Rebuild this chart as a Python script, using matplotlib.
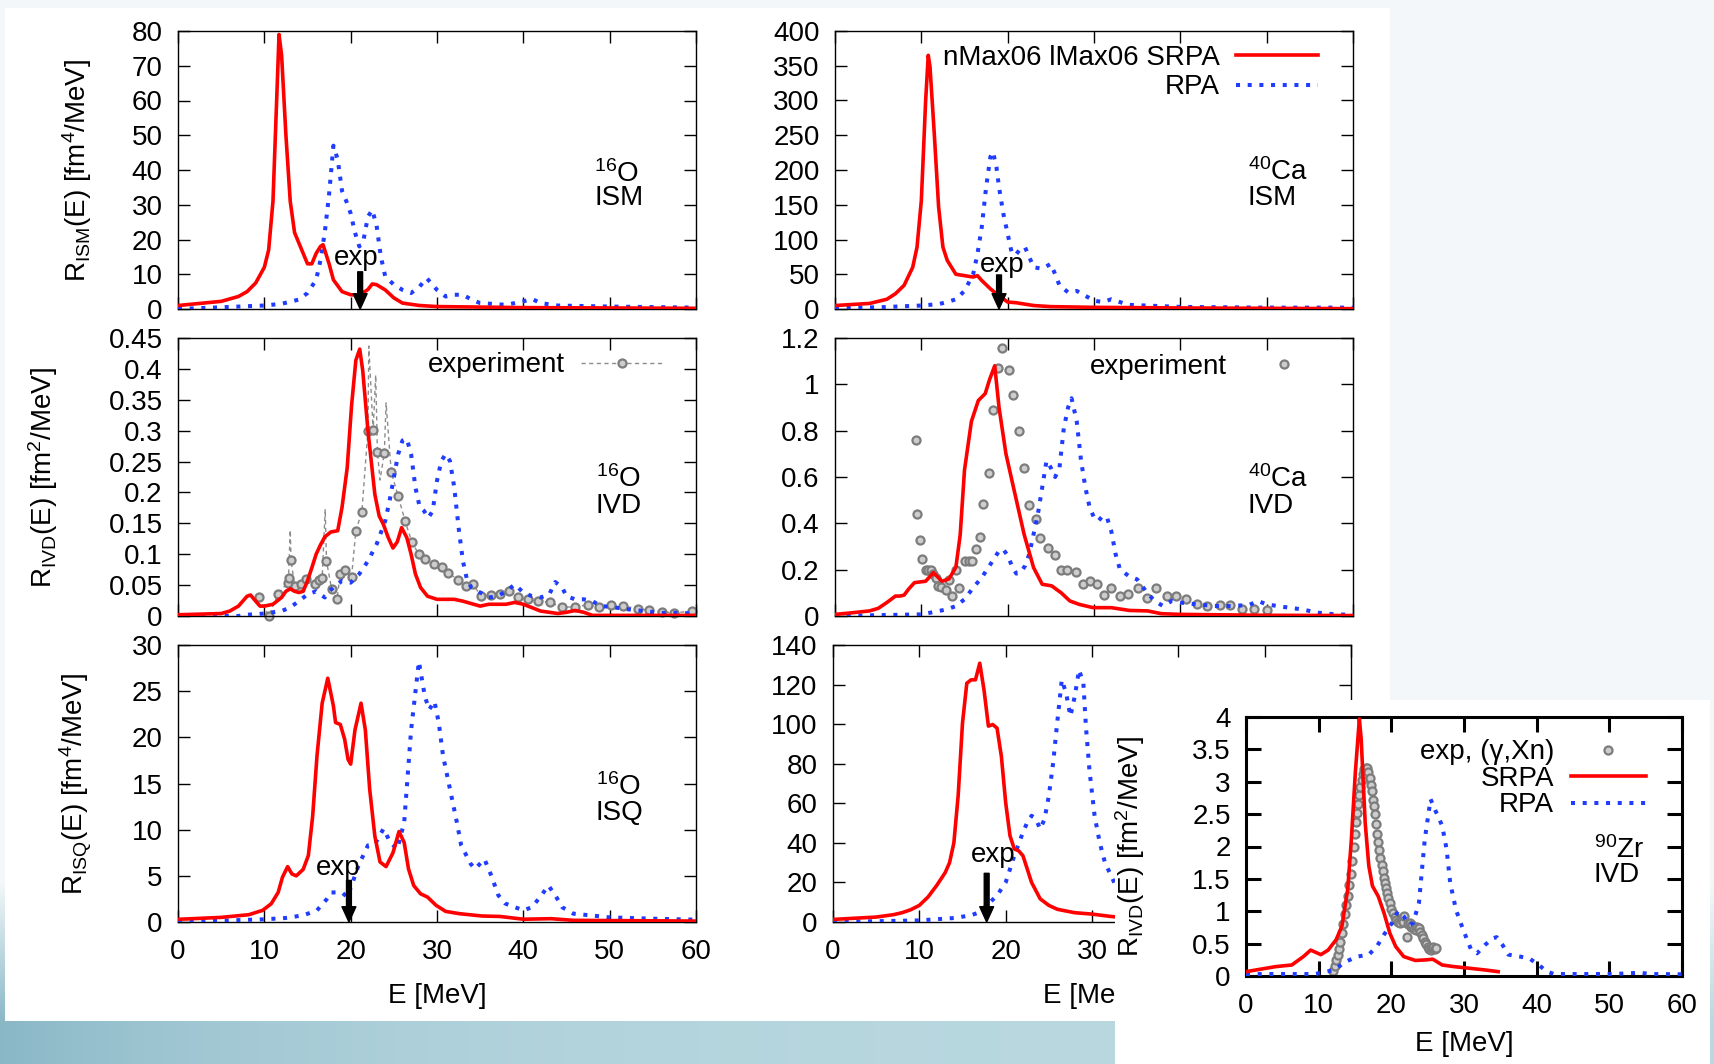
import numpy as np
import matplotlib
matplotlib.use('Agg')
import matplotlib.pyplot as plt
from matplotlib.lines import Line2D
from matplotlib.patches import Rectangle
from matplotlib.ticker import MultipleLocator, FormatStrFormatter

plt.rcParams['font.family'] = ['Liberation Sans', 'DejaVu Sans']
plt.rcParams['font.size'] = 20
plt.rcParams['mathtext.fontset'] = 'custom'
plt.rcParams['mathtext.rm'] = 'Liberation Sans'
plt.rcParams['mathtext.it'] = 'Liberation Sans:italic'
plt.rcParams['mathtext.bf'] = 'Liberation Sans:bold'

# ---- data (E in MeV) ----
# 16O isoscalar monopole
o16_ism_srpa_e = [0, 5, 7, 8, 9, 10, 10.5, 11, 11.5, 11.7, 12, 12.5, 13, 13.5, 14, 14.5, 15, 15.5, 16, 16.5,
                  16.8, 17.5, 18, 19, 20, 21, 22, 22.5, 23, 24, 25, 26, 28, 30, 40, 60]
o16_ism_srpa_r = [1.0, 2.2, 3.6, 5.0, 7.5, 12, 17, 31, 65, 79, 73, 50, 31, 22, 19, 16, 13, 13, 16, 18,
                  18.5, 13, 8.4, 5, 4.1, 4.0, 5.6, 7.2, 7, 5.5, 3.2, 1.7, 1.0, 0.7, 0.4, 0.2]
o16_ism_rpa_e = [0, 10, 12, 14, 15, 16, 16.5, 17, 17.5, 18, 18.5, 19, 19.5, 20, 20.5, 21, 21.5, 22, 22.5, 23,
                 23.5, 24, 25, 26, 27, 28, 28.8, 30, 31, 32, 33, 34, 35, 38, 40, 41, 42, 44, 50, 60]
o16_ism_rpa_r = [0, 1, 1.5, 2.7, 4.6, 8.4, 14, 22, 33, 47, 43, 34, 31, 27.5, 22, 18, 20, 26.6, 28.5, 24,
                 15, 9.4, 7, 5.5, 4.6, 6.5, 8.9, 5.5, 3.6, 4.1, 4.1, 2.7, 1.7, 1.2, 2.2, 2.9, 1.7, 1.0, 0.7, 0.4]

# 40Ca isoscalar monopole
ca40_ism_srpa_e = [0, 4, 6, 7, 8, 9, 9.5, 10, 10.5, 10.8, 11, 11.5, 12, 12.5, 13, 14, 15, 16, 16.5, 17,
                   18, 19, 20, 21, 22, 23, 25, 30, 40, 60]
ca40_ism_srpa_r = [5, 8, 14, 22, 34, 60, 89, 156, 300, 365, 349, 252, 147, 89, 70, 50, 48, 46, 48, 41,
                   29, 19, 10, 9, 7, 5, 3.4, 2.4, 1.5, 0.5]
ca40_ism_rpa_e = [0, 5, 10, 12, 13, 14, 15, 16, 16.5, 17, 17.5, 18, 18.3, 18.7, 19, 19.5, 20, 20.5, 21, 21.5,
                  22, 22.5, 23, 24, 25, 25.5, 26, 27, 28, 29, 30, 31, 32, 33, 34, 36, 40, 50, 60]
ca40_ism_rpa_r = [2, 2.4, 5, 7, 10, 14, 26, 50, 79, 118, 175, 219, 226, 204, 175, 137, 108, 79, 79, 87,
                  89, 75, 60, 58, 65, 50, 34, 24, 26, 19, 12, 10, 14, 10, 6, 5, 3, 2, 2]

# 16O isovector dipole
o16_ivd_srpa_e = [0, 5, 6, 7, 7.5, 8, 8.4, 9, 9.5, 10, 11, 12, 12.5, 13, 13.5, 14, 14.5, 15, 15.5, 16,
                  16.5, 17, 17.7, 18.5, 19.0, 19.6, 20.1, 20.6, 21.05, 21.4, 22.0, 22.8, 23.3, 23.8, 24.35,
                  24.9, 25.4, 25.9, 26.5, 27.0, 27.5, 28.1, 28.9, 30, 32, 33, 35, 36, 38, 39, 40, 42, 44,
                  45, 46, 47, 48, 60]
o16_ivd_srpa_r = [0.002, 0.004, 0.008, 0.016, 0.024, 0.032, 0.034, 0.024, 0.016, 0.016, 0.019, 0.030, 0.040,
                  0.044, 0.040, 0.038, 0.040, 0.057, 0.078, 0.100, 0.115, 0.128, 0.136, 0.138, 0.176, 0.240,
                  0.340, 0.414, 0.432, 0.397, 0.300, 0.197, 0.162, 0.148, 0.127, 0.110, 0.120, 0.143, 0.127,
                  0.100, 0.068, 0.046, 0.032, 0.027, 0.027, 0.024, 0.016, 0.019, 0.019, 0.022, 0.019, 0.008,
                  0.004, 0.006, 0.009, 0.006, 0.001, 0.001]
o16_ivd_rpa_e = [0, 7, 8, 10, 12, 13, 14, 15, 16, 16.5, 17, 17.5, 18, 19, 20, 21, 22, 23, 24, 24.5,
                 25, 25.5, 26, 26.5, 27, 27.5, 28, 28.5, 29, 29.5, 30, 30.5, 31, 31.5, 32, 32.5, 33, 33.5,
                 34, 35, 36, 37, 38, 39, 40, 41, 42, 43, 43.7, 44.5, 45, 46, 47, 48, 49, 50, 52, 54, 56, 58, 60]
o16_ivd_rpa_r = [0, 0, 0.002, 0.004, 0.008, 0.014, 0.024, 0.035, 0.040, 0.035, 0.030, 0.040, 0.046, 0.057,
                 0.054, 0.068, 0.089, 0.116, 0.154, 0.186, 0.224, 0.262, 0.284, 0.287, 0.262, 0.208, 0.176,
                 0.170, 0.159, 0.170, 0.219, 0.251, 0.262, 0.251, 0.208, 0.143, 0.089, 0.057, 0.046, 0.038,
                 0.030, 0.032, 0.040, 0.051, 0.038, 0.032, 0.030, 0.035, 0.055, 0.046, 0.032, 0.027, 0.027,
                 0.024, 0.016, 0.015, 0.011, 0.008, 0.005, 0.005, 0.004]
o16_ivd_exp_e = [9.4, 10.5, 11.6, 12.7, 12.8, 13.0, 13.1, 13.5, 14.3, 14.8, 15.9, 16.3, 16.7, 17.05, 17.2,
                 17.8, 18.4, 18.8, 19.4, 20.1, 20.6, 21.3, 22.0, 22.1, 22.6, 22.9, 23.1, 23.4, 23.9, 24.1,
                 24.7, 25.5, 26.3, 27.1, 27.9, 28.6, 29.7, 30.6, 31.3, 32.4, 33.4, 34.2, 35.1, 36.2, 37.3,
                 38.3, 39.4, 40.5, 41.7, 43.1, 44.5, 46.0, 47.5, 48.8, 50.2, 51.6, 53.3, 54.6, 56.1, 57.5, 59.5]
o16_ivd_exp_r = [0.030, 0.0, 0.036, 0.054, 0.062, 0.139, 0.090, 0.049, 0.051, 0.060, 0.051, 0.058, 0.062,
                 0.173, 0.089, 0.043, 0.027, 0.068, 0.074, 0.063, 0.138, 0.169, 0.300, 0.437, 0.301, 0.390,
                 0.265, 0.220, 0.264, 0.345, 0.233, 0.194, 0.154, 0.119, 0.100, 0.092, 0.084, 0.079, 0.070,
                 0.059, 0.049, 0.051, 0.032, 0.034, 0.035, 0.040, 0.030, 0.027, 0.024, 0.022, 0.014, 0.015,
                 0.018, 0.015, 0.018, 0.016, 0.012, 0.009, 0.007, 0.005, 0.008]
# 1 = sampled point drawn with a circle, 0 = only on the dashed trace
o16_ivd_exp_dot = [1, 1, 1, 1, 1, 0, 1, 1, 1, 1, 1, 1, 1, 0, 1, 1, 1, 1, 1, 1, 1, 1, 1, 0, 1, 0, 1, 0, 1, 0,
                   1, 1, 1, 1, 1, 1, 1, 1, 1, 1, 1, 1, 1, 1, 1, 1, 1, 1, 1, 1, 1, 1, 1, 1, 1, 1, 1, 1, 1, 1, 1]

# 40Ca isovector dipole
ca40_ivd_srpa_e = [0, 2, 4, 5, 6, 7, 7.5, 8, 8.5, 9.2, 10.5, 11.4, 12.4, 13.2, 14.0, 14.5, 15.0, 15.8, 16.6,
                   17.4, 17.9, 18.5, 19.0, 19.8, 20.85, 21.9, 23.0, 24.0, 25.1, 26.2, 27.2, 28.3, 29.9, 32,
                   34.1, 36.2, 37.8, 40, 50, 60]
ca40_ivd_srpa_r = [0.007, 0.014, 0.022, 0.033, 0.058, 0.086, 0.086, 0.09, 0.115, 0.144, 0.15, 0.187, 0.15,
                   0.16, 0.21, 0.35, 0.63, 0.84, 0.93, 0.96, 1.02, 1.08, 0.90, 0.70, 0.526, 0.353, 0.209,
                   0.137, 0.13, 0.10, 0.065, 0.05, 0.036, 0.036, 0.024, 0.022, 0.01, 0.007, 0.003, 0.002]
ca40_ivd_rpa_e = [0, 10, 11, 13, 14, 15, 16, 17, 18, 19, 19.5, 20, 20.5, 21, 21.5, 22, 22.5, 23, 23.5, 24,
                  24.5, 25, 25.5, 26, 26.5, 27, 27.4, 28, 28.5, 29, 29.5, 30, 30.5, 31, 31.5, 32, 32.5, 33,
                  34, 35, 36, 37, 38, 39, 40, 42, 44, 46, 48, 49, 50, 52, 54, 56, 58, 60]
ca40_ivd_rpa_r = [0, 0.007, 0.014, 0.029, 0.043, 0.072, 0.122, 0.166, 0.223, 0.281, 0.288, 0.26, 0.216,
                  0.183, 0.187, 0.216, 0.267, 0.353, 0.44, 0.555, 0.67, 0.64, 0.6, 0.64, 0.81, 0.9, 0.94,
                  0.84, 0.67, 0.555, 0.468, 0.425, 0.41, 0.432, 0.425, 0.367, 0.267, 0.202, 0.173, 0.158,
                  0.108, 0.065, 0.043, 0.065, 0.058, 0.05, 0.043, 0.043, 0.048, 0.065, 0.05, 0.039, 0.029,
                  0.014, 0.007, 0.005]
ca40_ivd_exp_e = [9.34, 9.55, 9.81, 10.1, 10.5, 10.8, 11.1, 11.4, 11.7, 11.9, 12.3, 12.8, 13.2, 13.6, 14.0,
                  14.4, 15.1, 15.5, 15.9, 16.3, 16.8, 17.2, 17.8, 18.3, 18.9, 19.4, 20.1, 20.6, 21.3, 21.9,
                  22.5, 23.3, 23.8, 24.7, 25.5, 26.2, 26.9, 27.9, 28.7, 29.5, 30.4, 31.2, 32.0, 33.0, 33.9,
                  35.1, 36.1, 37.2, 38.4, 39.5, 40.7, 41.9, 43.1, 44.6, 45.8, 47.2, 48.5, 50.0]
ca40_ivd_exp_r = [0.759, 0.442, 0.327, 0.248, 0.197, 0.197, 0.197, 0.18, 0.163, 0.13, 0.125, 0.111, 0.154,
                  0.086, 0.2, 0.122, 0.238, 0.238, 0.238, 0.288, 0.339, 0.483, 0.617, 0.889, 1.069, 1.157,
                  1.064, 0.955, 0.8, 0.641, 0.478, 0.419, 0.336, 0.295, 0.264, 0.197, 0.2, 0.19, 0.14,
                  0.151, 0.137, 0.091, 0.122, 0.086, 0.094, 0.122, 0.079, 0.122, 0.086, 0.086, 0.075, 0.05,
                  0.043, 0.048, 0.048, 0.029, 0.029, 0.024]

# 16O isoscalar quadrupole
o16_isq_srpa_e = [0, 5, 8.2, 9.8, 10.8, 11.6, 12.1, 12.7, 13.2, 13.7, 14.5, 15.1, 15.6, 16.1, 16.7, 17.35,
                  18.0, 18.25, 18.8, 19.3, 19.7, 20.0, 20.5, 21.2, 21.7, 22.2, 22.8, 23.4, 24.1, 24.9, 25.6,
                  26.2, 26.7, 27.3, 28.1, 28.9, 29.9, 31.0, 32.6, 35.2, 37.3, 40, 43.2, 45.8, 60]
o16_isq_srpa_r = [0.29, 0.5, 0.79, 1.26, 1.98, 3.2, 4.85, 6.0, 5.2, 5.0, 5.7, 7.2, 11.5, 18.0, 23.7, 26.4,
                  23.4, 21.6, 21.4, 19.8, 17.6, 17.1, 20.8, 23.7, 20.8, 14.4, 9.3, 6.5, 6.0, 7.5, 9.8,
                  8.6, 5.75, 3.95, 3.05, 2.7, 1.8, 1.15, 0.9, 0.65, 0.6, 0.3, 0.36, 0.18, 0.1]
o16_isq_rpa_e = [0, 10, 12.4, 14.5, 16.1, 17.2, 17.7, 19.0, 19.6, 20.1, 20.9, 22.0, 22.8, 23.8, 24.6, 25.4,
                 26.2, 27.0, 27.9, 28.6, 29.1, 29.7, 30.2, 30.7, 31.5, 32.3, 32.8, 33.9, 34.4, 35.5, 36.3,
                 37.1, 37.9, 40, 41, 42.1, 42.9, 43.7, 44.5, 45.8, 48.5, 50, 54.9, 60]
o16_isq_rpa_r = [0, 0.29, 0.43, 0.72, 1.26, 2.44, 3.2, 3.2, 2.7, 3.95, 6.1, 8.3, 8.4, 10.1, 8.6, 7.9,
                 10.8, 20.8, 28.2, 24.4, 23.0, 23.9, 21.6, 18.0, 14.4, 10.8, 8.3, 6.3, 5.75, 6.8, 5.0,
                 2.9, 2.0, 1.26, 1.6, 2.9, 3.95, 2.9, 1.6, 0.9, 0.65, 0.5, 0.36, 0.25]

# 40Ca isoscalar quadrupole
ca40_isq_srpa_e = [0, 5, 7, 8, 9, 10, 11, 12, 13, 13.5, 14, 14.5, 15, 15.5, 16, 16.5, 17, 17.5, 18, 18.5,
                   19, 19.5, 20, 20.5, 21, 21.5, 22, 22.5, 23, 24, 25, 26, 28, 30, 32, 34, 40, 60]
ca40_isq_srpa_r = [1.3, 2.5, 3.7, 4.7, 6.2, 8.4, 12.6, 18.4, 25, 30, 40, 64, 100.6, 120.7, 122.4, 122.4,
                   130.8, 117, 99, 99.8, 98, 83.8, 60.4, 43.6, 36.9, 36, 33.5, 26.8, 20, 11.7, 8.4, 6.4,
                   4.7, 4, 2.9, 2, 1, 0.3]
ca40_isq_rpa_e = [0, 10, 14, 16, 17, 18, 19, 20, 21, 22, 22.5, 23, 23.5, 24, 24.5, 25, 25.5, 26, 26.5, 27,
                  27.5, 28, 28.5, 29, 29.3, 29.7, 30.3, 30.9, 31.5, 32.2, 33, 34, 36, 40, 50, 60]
ca40_isq_rpa_r = [0, 0.8, 2, 3.4, 5, 9.2, 13.4, 20, 33.5, 45.3, 50.3, 53.7, 52, 47, 52, 63.7, 80.5, 102,
                  122.4, 115.7, 104, 114, 127.4, 120.7, 98.5, 77, 53.7, 40, 30, 23.5, 16, 10, 5, 2, 1, 0.5]

# 90Zr isovector dipole
zr90_ivd_srpa_e = [0, 4.1, 6.3, 7.9, 8.9, 10.3, 11.3, 12.4, 13.2, 14.0, 14.5, 15.05, 15.6, 15.85, 16.4,
                   16.9, 17.4, 18.2, 19.0, 19.8, 20.6, 21.7, 23.3, 24.9, 25.7, 27.0, 28.6, 30.7, 32.9, 34.7]
zr90_ivd_srpa_r = [0.067, 0.145, 0.17, 0.30, 0.40, 0.33, 0.40, 0.56, 0.77, 1.34, 2.11, 3.15, 3.97, 3.66,
                   2.37, 1.70, 1.39, 1.23, 0.97, 0.66, 0.455, 0.30, 0.24, 0.25, 0.26, 0.17, 0.145, 0.12,
                   0.093, 0.067]
zr90_ivd_rpa_e = [0, 9.5, 11.0, 12.1, 13.7, 15.3, 16.9, 18.0, 19.0, 20.1, 20.9, 21.7, 22.5, 23.0, 23.8,
                  24.6, 25.4, 26.2, 27.0, 27.6, 28.1, 28.9, 29.9, 31.0, 31.8, 32.9, 33.9, 34.5, 35.3, 36.1,
                  37.7, 39.0, 40.3, 41.4, 42.4, 50.4, 54.2, 55.7, 60]
zr90_ivd_rpa_r = [0.03, 0.03, 0.067, 0.09, 0.22, 0.30, 0.33, 0.455, 0.64, 0.82, 1.0, 0.92, 0.79, 0.82,
                  1.13, 2.11, 2.73, 2.52, 2.32, 1.96, 1.44, 1.02, 0.71, 0.40, 0.35, 0.48, 0.58, 0.60, 0.48,
                  0.33, 0.30, 0.27, 0.17, 0.067, 0.03, 0.03, 0.05, 0.03, 0.026]
zr90_ivd_exp_e = [12.0, 12.2, 12.4, 12.6, 12.8, 13.0, 13.2, 13.4, 13.6, 13.8, 14.0, 14.2, 14.4, 14.6, 14.8,
                  15.0, 15.15, 15.3, 15.45, 15.6, 15.75, 15.9, 16.1, 16.3, 16.5, 16.7, 16.85, 17.0, 17.15,
                  17.3, 17.45, 17.6, 17.75, 17.9, 18.05, 18.2, 18.35, 18.5, 18.65, 18.8, 18.95, 19.1, 19.25,
                  19.4, 19.6, 19.8, 20.0, 20.2, 20.45, 20.7, 20.95, 21.2, 21.45, 21.6, 21.8, 22.1, 22.3,
                  22.5, 22.7, 22.9, 23.1, 23.4, 23.6, 23.8, 24.0, 24.2, 24.4, 24.6, 24.8, 25.0, 25.2, 25.4,
                  25.6, 25.8, 26.0, 26.2]
zr90_ivd_exp_r = [0.07, 0.15, 0.24, 0.33, 0.42, 0.52, 0.66, 0.80, 0.95, 1.10, 1.24, 1.40, 1.57, 1.78, 2.00,
                  2.20, 2.38, 2.52, 2.66, 2.80, 2.92, 3.03, 3.12, 3.19, 3.22, 3.21, 3.15, 3.06, 2.95, 2.85,
                  2.72, 2.62, 2.50, 2.35, 2.20, 2.07, 1.95, 1.82, 1.72, 1.62, 1.52, 1.44, 1.36, 1.28, 1.20,
                  1.12, 1.04, 0.97, 0.91, 0.87, 0.84, 0.82, 0.86, 0.84, 0.92, 0.61, 0.80, 0.82, 0.76, 0.79,
                  0.72, 0.71, 0.76, 0.74, 0.68, 0.64, 0.58, 0.53, 0.49, 0.455, 0.42, 0.40, 0.44, 0.455,
                  0.41, 0.43]

# experimental centroids marked by arrows
o16_ism_exp_centroid = 21.1
ca40_ism_exp_centroid = 19.0
o16_isq_exp_centroid = 19.8
ca40_isq_exp_centroid = 17.8

# ---- figure ----
W, H = 1715, 1064
fig = plt.figure(figsize=(W / 100, H / 100), dpi=100)
fig.patch.set_facecolor('#f3f8f9')


def pix(x0, y0, x1, y1):
    return [x0 / W, 1 - y1 / H, (x1 - x0) / W, (y1 - y0) / H]


# slide background: pale field with a teal band along the bottom
bg = fig.add_axes([0, 0, 1, 1])
bg.set_zorder(-10)
gy, gx = np.mgrid[0:266, 0:429]
py = gy * H / 266.0
px = gx * W / 429.0
base = np.array([0.953, 0.972, 0.977])
dark = np.array([0.54, 0.72, 0.78])
light = np.array([0.73, 0.85, 0.88])
k = np.exp(-px / 320.0)[..., None]
band = light * (1 - k) + dark * k
wgt = np.clip((py - 880) / 140.0, 0, 1)[..., None]
bg.imshow(base * (1 - wgt) + band * wgt, aspect='auto', extent=[0, 1, 0, 1])
bg.set_axis_off()


def panel_bg(x0, y0, x1, y1, z):
    b = pix(x0, y0, x1, y1)
    fig.add_artist(Rectangle((b[0], b[1]), b[2], b[3], transform=fig.transFigure,
                             facecolor='white', edgecolor='none', zorder=z))


panel_bg(5, 8, 1390, 1021, -5)
panel_bg(1115, 700, 1710, 1064, 2)

RED = '#ff0000'
BLUE = '#1f3cff'
DOTS = (0, (1, 1.9))
EXP_MK = dict(marker='o', ms=5.8, mfc='#cdcdcd', mec='#7c7c7c', mew=1.6)


def frame(box, ymax, ystep, xlabels=False, thick=1.0, tlen=8.5, z=0):
    ax = fig.add_axes(pix(*box))
    ax.set_zorder(z)
    ax.set_xlim(0, 60)
    ax.set_ylim(0, ymax)
    ax.xaxis.set_major_locator(MultipleLocator(10))
    ax.yaxis.set_major_locator(MultipleLocator(ystep))
    ax.yaxis.set_major_formatter(FormatStrFormatter('%g'))
    ax.tick_params(direction='in', top=True, right=True, length=tlen, width=thick,
                   labelbottom=xlabels, colors='black')
    ax.tick_params(axis='y', pad=11)
    ax.tick_params(axis='x', pad=12)
    for sp in ax.spines.values():
        sp.set_linewidth(thick)
    return ax


def theory(ax, es, rs, er, rr, ls_lab='_s', lr_lab='_r'):
    lr, = ax.plot(er, rr, color=BLUE, lw=2.9, ls=DOTS, label=lr_lab, zorder=3)
    ls, = ax.plot(es, rs, color=RED, lw=2.6, label=ls_lab, zorder=4)
    return ls, lr


def nucleus(ax, mass, sym, mode, x, y1, y2):
    ax.text(x, y1, r'$^{\mathregular{%s}}$' % mass + sym, transform=ax.transAxes,
            ha='left', va='baseline')
    ax.text(x, y2, mode, transform=ax.transAxes, ha='left', va='baseline')


def exp_arrow(ax, e, ytop, etext, ytext):
    ax.annotate('', xy=(e, 0), xytext=(e, ytop), annotation_clip=False,
                arrowprops=dict(facecolor='black', edgecolor='black', width=3.5,
                                headwidth=10, headlength=11, shrink=0), zorder=6)
    ax.text(etext, ytext, 'exp', ha='center', va='baseline', zorder=6)


def key(ax, handles, right, top, hl=2.95, pad=0.58, sp=0.0):
    ax.legend(handles=handles, loc='upper right', bbox_to_anchor=(right, top), frameon=False,
              markerfirst=False, handlelength=hl, handletextpad=pad, borderpad=0,
              borderaxespad=0, labelspacing=sp, numpoints=1)


# 16O ISM
axA = frame((178, 31, 696, 309), 80, 10)
theory(axA, o16_ism_srpa_e, o16_ism_srpa_r, o16_ism_rpa_e, o16_ism_rpa_r)
exp_arrow(axA, o16_ism_exp_centroid, 10.7, 20.6, 12.7)
nucleus(axA, '16', 'O', 'ISM', 0.804, 0.458, 0.374)
axA.set_ylabel(r'R$_{\mathregular{ISM}}$(E) [fm$^{\mathregular{4}}$/MeV]')
axA.yaxis.set_label_coords(-0.162, 0.5)

# 40Ca ISM
axB = frame((835, 31, 1353, 309), 400, 50)
sB, rB = theory(axB, ca40_ism_srpa_e, ca40_ism_srpa_r, ca40_ism_rpa_e, ca40_ism_rpa_r,
                'nMax06 lMax06 SRPA', 'RPA')
exp_arrow(axB, ca40_ism_exp_centroid, 49, 19.4, 53)
nucleus(axB, '40', 'Ca', 'ISM', 0.797, 0.464, 0.374)
key(axB, [sB, rB], 0.932, 0.95, sp=0.12)

# 16O IVD
axC = frame((178, 338, 696, 616), 0.45, 0.05)
ee = np.array(o16_ivd_exp_e)
rr = np.array(o16_ivd_exp_r)
mm = np.array(o16_ivd_exp_dot, dtype=bool)
axC.plot(ee, rr, color='#8c8c8c', lw=1.0, ls=(0, (3, 2.5)), zorder=2)
axC.plot(ee[mm], rr[mm], ls='none', clip_on=False, zorder=2.5, **EXP_MK)
theory(axC, o16_ivd_srpa_e, o16_ivd_srpa_r, o16_ivd_rpa_e, o16_ivd_rpa_r)
nucleus(axC, '16', 'O', 'IVD', 0.806, 0.465, 0.369)
proxy = Line2D([], [], color='#8c8c8c', lw=1.0, ls=(0, (3, 2.5)), label='experiment', **EXP_MK)
key(axC, [proxy], 0.936, 0.948)
axC.set_ylabel(r'R$_{\mathregular{IVD}}$(E) [fm$^{\mathregular{2}}$/MeV]')
axC.yaxis.set_label_coords(-0.228, 0.5)

# 40Ca IVD
axD = frame((835, 338, 1353, 616), 1.2, 0.2)
eD, = axD.plot(ca40_ivd_exp_e, ca40_ivd_exp_r, ls='none', zorder=2.5, label='experiment', **EXP_MK)
theory(axD, ca40_ivd_srpa_e, ca40_ivd_srpa_r, ca40_ivd_rpa_e, ca40_ivd_rpa_r)
nucleus(axD, '40', 'Ca', 'IVD', 0.797, 0.465, 0.372)
key(axD, [eD], 0.946, 0.943)

# 16O ISQ
axE = frame((178, 645, 696, 922), 30, 5, xlabels=True)
theory(axE, o16_isq_srpa_e, o16_isq_srpa_r, o16_isq_rpa_e, o16_isq_rpa_r)
exp_arrow(axE, o16_isq_exp_centroid, 4.5, 18.6, 5.1)
nucleus(axE, '16', 'O', 'ISQ', 0.806, 0.458, 0.368)
axE.set_ylabel(r'R$_{\mathregular{ISQ}}$(E) [fm$^{\mathregular{4}}$/MeV]')
axE.yaxis.set_label_coords(-0.162, 0.5)
axE.set_xlabel('E [MeV]', labelpad=13)

# 40Ca ISQ (partly hidden behind the 90Zr panel)
axF = frame((833, 645, 1351, 922), 140, 20, xlabels=True)
theory(axF, ca40_isq_srpa_e, ca40_isq_srpa_r, ca40_isq_rpa_e, ca40_isq_rpa_r)
exp_arrow(axF, ca40_isq_exp_centroid, 24.6, 18.6, 30.5)
axF.set_xlabel('E [MeV]', labelpad=13)

# 90Zr IVD inset
axG = frame((1246, 717, 1682, 976), 4, 0.5, xlabels=True, thick=2.2, tlen=11, z=3)
eG, = axG.plot(zr90_ivd_exp_e, zr90_ivd_exp_r, ls='none', zorder=2.5, label='exp, (\u03b3,Xn)', **EXP_MK)
sG, rG = theory(axG, zr90_ivd_srpa_e, zr90_ivd_srpa_r, zr90_ivd_rpa_e, zr90_ivd_rpa_r, 'SRPA', 'RPA')
nucleus(axG, '90', 'Zr', 'IVD', 0.798, 0.454, 0.364)
key(axG, [eG, sG, rG], 0.917, 0.914, hl=2.7, pad=0.6, sp=0.02)
axG.set_ylabel(r'R$_{\mathregular{IVD}}$(E) [fm$^{\mathregular{2}}$/MeV]')
axG.yaxis.set_label_coords(-0.227, 0.5)
axG.set_xlabel('E [MeV]', labelpad=9)

fig.savefig('out.png', dpi=100)
